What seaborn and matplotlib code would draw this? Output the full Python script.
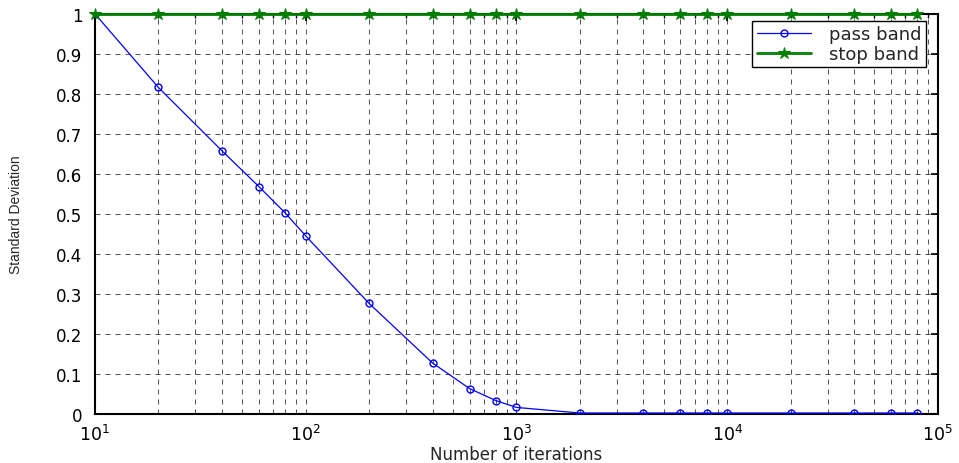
import matplotlib
matplotlib.use("Agg")
import matplotlib.pyplot as plt
import seaborn as sns
import pandas as pd
import numpy as np
from matplotlib.ticker import LogLocator, LogFormatterMathtext, MultipleLocator

iterations = [10, 20, 40, 60, 80, 100, 200, 400, 600, 800, 1000, 2000, 4000,
              6000, 8000, 10000, 20000, 40000, 60000, 80000]
pass_band = [1.0, 0.816, 0.658, 0.568, 0.502, 0.445, 0.276, 0.127, 0.063, 0.033,
             0.016, 0.002, 0.002, 0.002, 0.002, 0.002, 0.002, 0.002, 0.002, 0.002]
stop_band = [1.0] * len(iterations)
series_names = ["pass band", "stop band"]

sns.set_theme(style="white")
plt.rcParams['font.family'] = ['DejaVu Sans']
plt.rcParams['mathtext.fontset'] = 'dejavusans'

df = pd.DataFrame({
    "x": iterations * 2,
    "y": pass_band + stop_band,
    "series": [series_names[0]] * len(iterations) + [series_names[1]] * len(iterations),
})

fig = plt.figure(figsize=(9.59, 4.64), dpi=100)
ax = fig.add_axes([0.099, 0.106, 0.879, 0.862])

sns.lineplot(data=df[df.series == "pass band"], x="x", y="y", ax=ax, color="#0000ff",
             marker="o", markersize=5, markerfacecolor="none", markeredgecolor="#0000ff",
             markeredgewidth=1.0, linewidth=0.9, label="pass band", zorder=3)
sns.lineplot(data=df[df.series == "stop band"], x="x", y="y", ax=ax, color="#007f00",
             marker="*", markersize=9, markerfacecolor="#007f00", markeredgecolor="#007f00",
             linewidth=2.0, label="stop band", zorder=4, clip_on=False)

ax.set_xscale("log")
ax.set_xlim(10, 1e5)
ax.set_ylim(0, 1)
ax.xaxis.set_major_locator(LogLocator(base=10))
ax.xaxis.set_minor_locator(LogLocator(base=10, subs=np.arange(2, 10)))
ax.xaxis.set_major_formatter(LogFormatterMathtext())
ax.yaxis.set_major_locator(MultipleLocator(0.1))
ax.yaxis.set_major_formatter(plt.FuncFormatter(lambda v, p: "0" if abs(v) < 1e-9 else ("1" if abs(v - 1) < 1e-9 else f"{v:.1f}")))

ax.grid(True, which="major", axis="both", color="black", linestyle=(0, (6, 6)), linewidth=0.6, alpha=0.8)
ax.grid(True, which="minor", axis="x", color="black", linestyle=(0, (6, 6)), linewidth=0.6, alpha=0.8)

ax.tick_params(axis="both", which="both", direction="in", top=True, right=True, colors="black")
ax.tick_params(axis="x", which="major", length=5, pad=7, labelsize=12.5)
ax.tick_params(axis="x", which="minor", length=3)
ax.tick_params(axis="y", which="major", length=5, pad=9, labelsize=12)
for s in ax.spines.values():
    s.set_color("black")
    s.set_linewidth(1.5)

ax.set_xlabel("Number of iterations", fontsize=12, labelpad=1)
ax.set_ylabel("Standard Deviation", fontsize=10, family="Liberation Sans", labelpad=24)

leg = ax.legend(loc="upper right", bbox_to_anchor=(0.986, 0.983), fontsize=13, frameon=True,
                fancybox=False, edgecolor="black", framealpha=1, borderpad=0.25,
                handlelength=3.0, handletextpad=1.0, labelspacing=0.1, borderaxespad=0)
leg.get_frame().set_linewidth(1.0)

fig.savefig("out.png", dpi=100)
